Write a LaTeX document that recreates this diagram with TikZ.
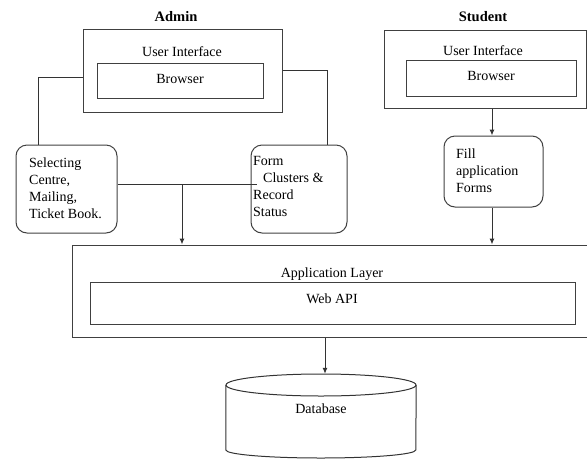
\documentclass[tikz,border=0pt]{standalone}
\usepackage{fontspec}
\setmainfont{Liberation Serif}
\usetikzlibrary{arrows.meta}
\begin{document}
\begin{tikzpicture}[x=1pt,y=-1pt,
  box/.style={draw=black!75,line width=1pt,inner sep=0pt},
  rbox/.style={draw=black!75,line width=1pt,rounded corners=11pt,inner sep=0pt},
  lbl/.style={anchor=base,inner sep=0pt,font=\fontsize{14}{17}\selectfont},
  mtxt/.style={anchor=north west,inner sep=0pt,align=left,font=\fontsize{14}{17}\selectfont},
  ttl/.style={anchor=base,inner sep=0pt,font=\fontsize{14.5}{17}\selectfont\bfseries},
  conn/.style={draw=black!80,line width=1pt},
  arr/.style={conn,-{Latex[length=6pt,width=5pt]}}]
\clip (0,0) rectangle (587,459);
% Admin side
\node[ttl] (admint) at (176,21.5) {Admin};
\node[box,minimum width=199,minimum height=83] (aui) at (182.5,70.5) {};
\node[lbl] (auil) at (182,56.5) {User Interface};
\node[box,minimum width=166,minimum height=35] (abr) at (180,80.5) {};
\node[lbl] (abrl) at (180,83) {Browser};
\node[rbox,minimum width=101,minimum height=88] (sel) at (66.5,189) {};
\node[mtxt] (selt) at (29,157.5) {Selecting\\Centre,\\Mailing,\\Ticket Book.};
\node[rbox,minimum width=96,minimum height=88] (form) at (299,189) {};
\node[mtxt] (formt) at (253,156.5) {Form\\\hspace{10pt}Clusters \&\\Record\\Status};
% Student side
\node[ttl] (studt) at (483,21.5) {Student};
\node[box,minimum width=202,minimum height=78] (sui) at (485,69) {};
\node[lbl] (suil) at (483,55) {User Interface};
\node[box,minimum width=170,minimum height=36] (sbr) at (491,78) {};
\node[lbl] (sbrl) at (491,80) {Browser};
\node[rbox,minimum width=99,minimum height=71] (fill) at (493.5,171.5) {};
\node[mtxt] (fillt) at (456,148.5) {Fill\\application\\Forms};
% Application layer
\node[box,minimum width=520,minimum height=92] (app) at (332,291) {};
\node[lbl] (appl) at (332,277) {Application Layer};
\node[box,minimum width=485,minimum height=42] (web) at (332.5,303) {};
\node[lbl] (webl) at (332,303) {Web API};
% Database
\node[inner sep=0pt,minimum width=190,minimum height=84] (db) at (321,416) {};
\draw[conn,fill=white] (db.west |- 0,385) -- (db.west |- 0,450) arc (180:0:95 and 8) -- (db.east |- 0,385);
\draw[conn] (321,385) ellipse (95 and 11);
\node[lbl] (dbl) at (321,413) {Database};
% connectors
\coordinate (j1) at (38,77);
\draw[conn] (aui.west |- j1) -| (sel.north -| j1);
\coordinate (j2) at (327,70);
\draw[conn] (aui.east |- j2) -| (form.north -| j2);
\coordinate (h1) at (182,184);
\coordinate (h2) at (257,184);
\draw[conn] (sel.east |- h1) -- (h2);
\draw[arr] (h1) -- (app.north -| h1);
\coordinate (v1) at (492,0);
\draw[arr] (sui.south -| v1) -- (fill.north -| v1);
\draw[arr] (fill.south -| v1) -- (app.north -| v1);
\draw[arr] (app.south -| 325,0) -- (db.north -| 325,0);
\end{tikzpicture}
\end{document}
